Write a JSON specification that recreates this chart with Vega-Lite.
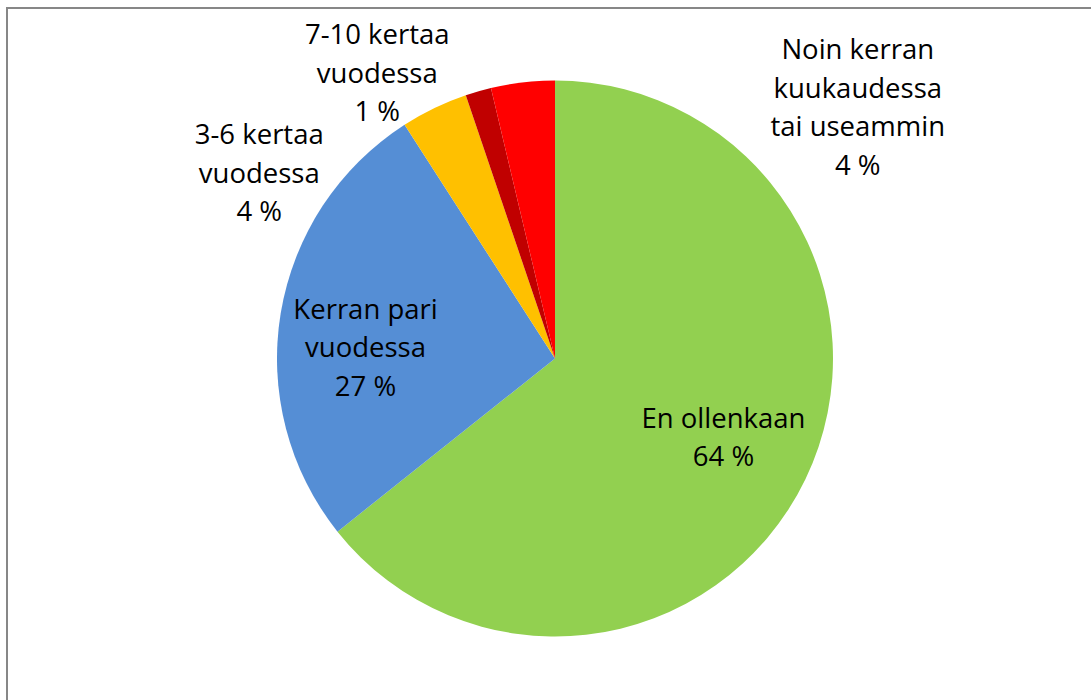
{
  "$schema": "https://vega.github.io/schema/vega-lite/v6.json",
  "width": 1096,
  "height": 701,
  "autosize": {"type": "none"},
  "padding": {"left": 7, "top": 8, "right": -12, "bottom": -9},
  "background": "#ffffff",
  "view": {"stroke": "#878787", "strokeWidth": 2},
  "config": {
    "view": {"stroke": "#878787", "strokeWidth": 2},
    "text": {"font": "Open Sans", "fontSize": 27.5, "lineHeight": 38.5, "color": "#000000", "lineBreak": "\n", "align": "center", "baseline": "middle"}
  },
  "data": {
    "values": [
      {"category": "En ollenkaan", "value": 64.3, "order": 1, "label": "En ollenkaan\n64 %"},
      {"category": "Kerran pari vuodessa", "value": 26.6, "order": 2, "label": "Kerran pari\nvuodessa\n27 %"},
      {"category": "3-6 kertaa vuodessa", "value": 3.9, "order": 3, "label": "3-6 kertaa\nvuodessa\n4 %"},
      {"category": "7-10 kertaa vuodessa", "value": 1.5, "order": 4, "label": "7-10 kertaa\nvuodessa\n1 %"},
      {"category": "Noin kerran kuukaudessa tai useammin", "value": 3.7, "order": 5, "label": "Noin kerran\nkuukaudessa\ntai useammin\n4 %"}
    ]
  },
  "encoding": {
    "theta": {"field": "value", "type": "quantitative", "stack": true},
    "order": {"field": "order", "type": "quantitative"}
  },
  "layer": [
    {
      "mark": {"type": "arc", "outerRadius": 278},
      "encoding": {
        "color": {
          "field": "category",
          "type": "nominal",
          "legend": null,
          "sort": null,
          "scale": {
            "domain": ["En ollenkaan", "Kerran pari vuodessa", "3-6 kertaa vuodessa", "7-10 kertaa vuodessa", "Noin kerran kuukaudessa tai useammin"],
            "range": ["#92D050", "#558ED5", "#FFC000", "#C00000", "#FF0000"]
          }
        }
      }
    },
    {
      "mark": {"type": "text", "radius": 187, "dy": -20},
      "encoding": {
        "text": {"condition": {"test": "datum.order == 1", "field": "label"}, "value": ""}
      }
    },
    {
      "mark": {"type": "text", "radius": 190, "dx": -2, "dy": -17},
      "encoding": {
        "text": {"condition": {"test": "datum.order == 2", "field": "label"}, "value": ""}
      }
    },
    {
      "mark": {"type": "text", "radius": 278, "dx": -175, "dy": 28},
      "encoding": {
        "text": {"condition": {"test": "datum.order == 3", "field": "label"}, "value": ""}
      }
    },
    {
      "mark": {"type": "text", "radius": 278, "dx": -101, "dy": -55},
      "encoding": {
        "text": {"condition": {"test": "datum.order == 4", "field": "label"}, "value": ""}
      }
    },
    {
      "mark": {"type": "text", "radius": 278, "dx": 335, "dy": -31},
      "encoding": {
        "text": {"condition": {"test": "datum.order == 5", "field": "label"}, "value": ""}
      }
    }
  ]
}
